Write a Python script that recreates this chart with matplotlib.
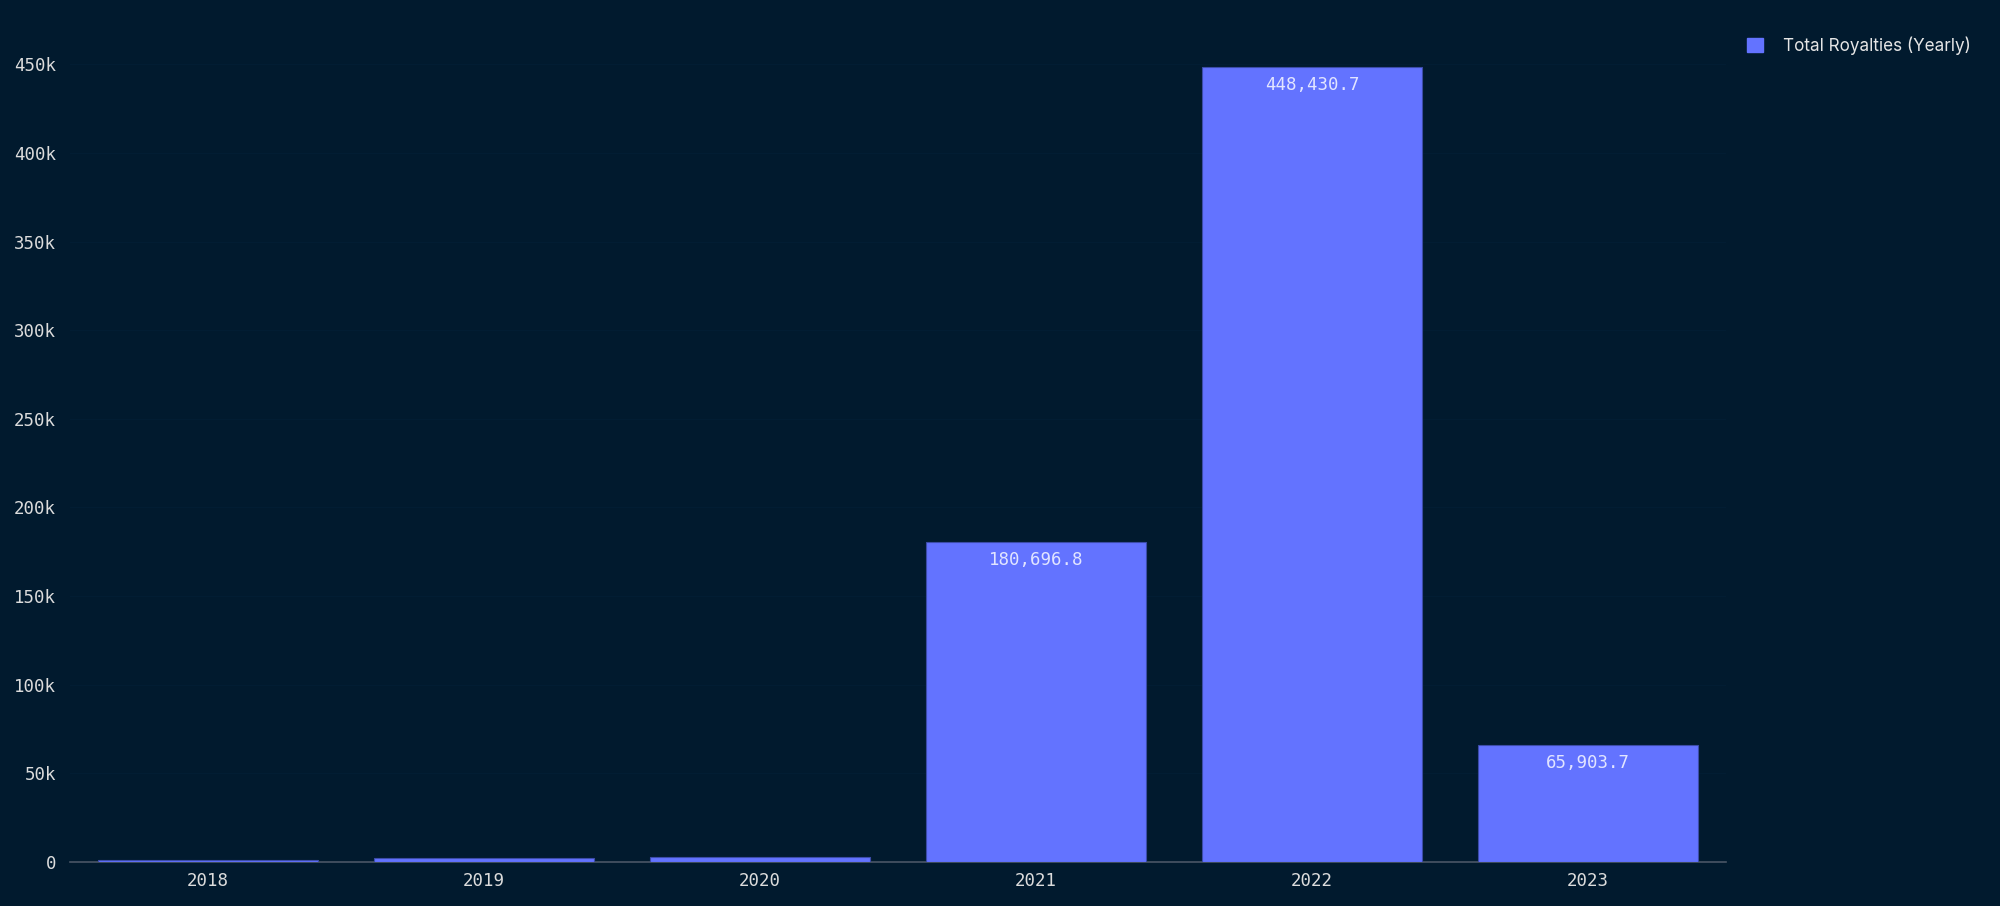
import numpy as np
import matplotlib.pyplot as plt
from matplotlib.patches import Patch

years = ['2018', '2019', '2020', '2021', '2022', '2023']
royalties = [900, 2100, 2900, 180696.8, 448430.7, 65903.7]
yticks = [0, 50000, 100000, 150000, 200000, 250000, 300000, 350000, 400000, 450000]
ytick_labels = ['0', '50k', '100k', '150k', '200k', '250k', '300k', '350k', '400k', '450k']

bg = '#011a2e'
bar_color = '#6373ff'

fig = plt.figure(figsize=(20, 9.06), dpi=100, facecolor=bg)
ax = fig.add_axes([0.035, 0.0486, 0.828, 0.90], facecolor=bg)

x = np.arange(len(years))
bars = ax.bar(x, royalties, width=0.8, color=bar_color, edgecolor='#3c4ca8', linewidth=0.8, zorder=3)

# value labels inside the big bars
for xi, v in zip(x, royalties):
    if v > 20000:
        ax.annotate(f'{v:,.1f}', (xi, v), xytext=(0, -13), textcoords='offset points',
                    ha='center', va='center', color='#e2e5ff', fontsize=12.5,
                    family='DejaVu Sans Mono', zorder=4)

ax.set_xlim(-0.5, 5.5)
ax.set_ylim(0, 460000)
ax.set_xticks(x)
ax.set_xticklabels(years)
ax.set_yticks(yticks)
ax.set_yticklabels(ytick_labels)
ax.tick_params(axis='both', length=0, colors='#dcdcdc', labelsize=12.5)
ax.tick_params(axis='x', pad=7)
ax.tick_params(axis='y', pad=10)
for lab in ax.get_xticklabels() + ax.get_yticklabels():
    lab.set_family('DejaVu Sans Mono')

# faint gridlines
ax.grid(axis='y', color='#021d33', linewidth=1, zorder=0)
for s in ['top', 'right', 'left']:
    ax.spines[s].set_visible(False)
ax.spines['bottom'].set_color('#4a5566')
ax.spines['bottom'].set_linewidth(1.2)

handle = Patch(facecolor=bar_color, edgecolor=bar_color)
leg = fig.legend([handle], ['Total Royalties (Yearly)'], loc='center left',
                 bbox_to_anchor=(0.866, 0.95), frameon=False, handlelength=0.9,
                 handleheight=0.9, handletextpad=1.2,
                 prop={'family': 'Inter', 'size': 12.3})
for t in leg.get_texts():
    t.set_color('#e6e6e6')

fig.savefig('out.png', dpi=100, facecolor=bg)
